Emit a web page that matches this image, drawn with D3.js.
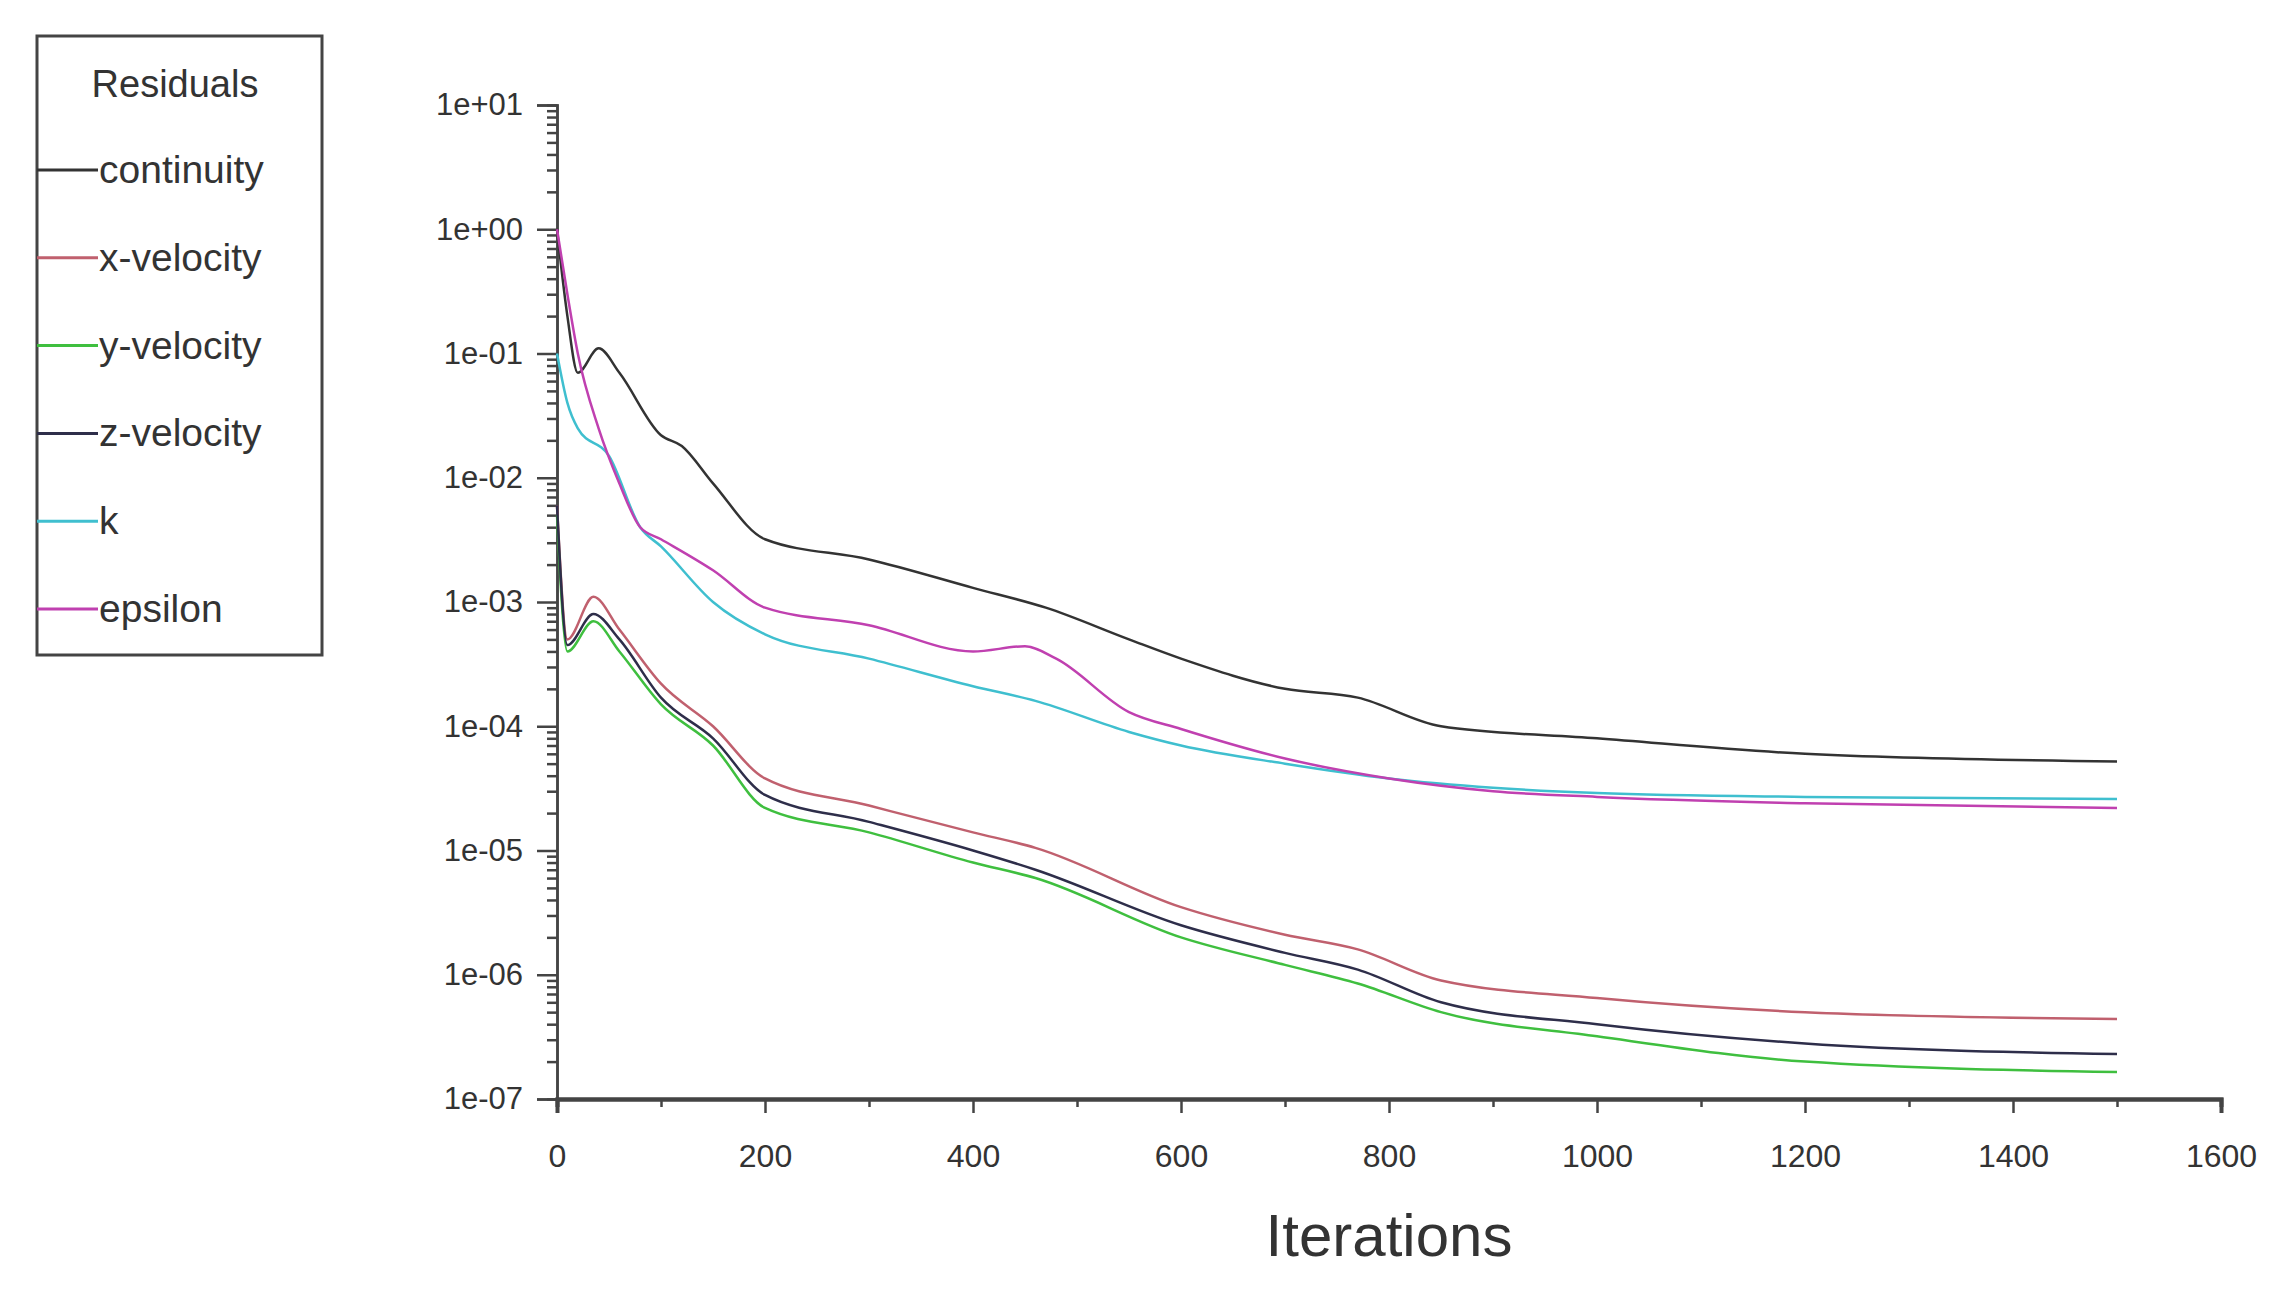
<!DOCTYPE html>
<html>
<head>
<meta charset="utf-8">
<script src="https://cdn.jsdelivr.net/npm/d3@7"></script>
<style>
  body { margin: 0; background: #fff; }
  text { font-family: "Liberation Sans", Arial, sans-serif; fill: #333; }
</style>
</head>
<body>
<svg width="2284" height="1291"></svg>
<script>
// iteration / residual pairs
const seriesNames = ['continuity', 'x-velocity', 'y-velocity', 'z-velocity', 'k', 'epsilon'];
const seriesColors = ['#333333', '#c0606e', '#3fbf3f', '#2e2e4a', '#3fbfcf', '#c040b0'];

const continuity = [[0,1],[10,0.2],[20,0.07],[40,0.11],[60,0.07],[100,0.022],[120,0.018],[150,0.009],[200,0.0032],[300,0.0022],[400,0.0013],[470,0.0009],[550,0.0005],[600,0.00035],[700,0.0002],[770,0.00017],[850,0.0001],[1000,0.00008],[1200,0.00006],[1500,0.000052]];
const xVelocity = [[0,0.006],[10,5e-4],[35,1.1e-3],[60,6e-4],[100,2.2e-4],[150,1e-4],[200,3.8e-5],[300,2.3e-5],[400,1.4e-5],[460,1.05e-5],[600,3.5e-6],[700,2.1e-6],[770,1.6e-6],[850,9e-7],[1000,6.5e-7],[1200,5e-7],[1500,4.4e-7]];
const yVelocity = [[0,0.005],[10,4e-4],[35,7e-4],[60,4e-4],[100,1.5e-4],[150,7e-5],[200,2.2e-5],[300,1.4e-5],[400,8e-6],[460,6e-6],[600,2e-6],[700,1.2e-6],[770,8.5e-7],[850,5e-7],[1000,3.2e-7],[1200,2e-7],[1500,1.65e-7]];
const zVelocity = [[0,0.006],[10,4.5e-4],[35,8e-4],[60,5e-4],[100,1.7e-4],[150,8e-5],[200,2.8e-5],[300,1.7e-5],[400,1e-5],[460,7e-6],[600,2.5e-6],[700,1.5e-6],[770,1.1e-6],[850,6e-7],[1000,4e-7],[1200,2.8e-7],[1500,2.3e-7]];
const kRes = [[0,0.1],[10,0.04],[20,0.025],[50,0.015],[80,0.004],[100,0.0028],[150,0.001],[200,5.5e-4],[300,3.5e-4],[400,2.1e-4],[460,1.6e-4],[550,9e-5],[600,7e-5],[700,5e-5],[800,3.8e-5],[900,3.2e-5],[1000,2.9e-5],[1200,2.7e-5],[1500,2.6e-5]];
const epsilon = [[0,1],[10,0.3],[20,0.1],[40,0.025],[60,0.009],[80,0.004],[100,0.0032],[150,0.0018],[200,9e-4],[300,6.5e-4],[400,4e-4],[450,4.4e-4],[480,3.5e-4],[550,1.3e-4],[600,9.5e-5],[700,5.5e-5],[800,3.8e-5],[900,3e-5],[1000,2.7e-5],[1200,2.4e-5],[1500,2.2e-5]];

const allSeries = [continuity, xVelocity, yVelocity, zVelocity, kRes, epsilon];
const yTickValues = [1e1, 1e0, 1e-1, 1e-2, 1e-3, 1e-4, 1e-5, 1e-6, 1e-7];
const yTickLabels = ['1e+01','1e+00','1e-01','1e-02','1e-03','1e-04','1e-05','1e-06','1e-07'];
const xTickValues = [0,200,400,600,800,1000,1200,1400,1600];

const svg = d3.select('svg');
const mLeft = 557, mRight = 2221, mTop = 105, mBottom = 1099;

const xScale = d3.scaleLinear().domain([0, 1600]).range([mLeft, mRight]);
const yScale = d3.scaleLog().domain([1e-7, 10]).range([mBottom, mTop]);

// y axis with minor log ticks
const yMinor = [];
for (let e = -7; e < 1; e++) for (let m = 2; m < 10; m++) yMinor.push(m * Math.pow(10, e));
const yAxisG = svg.append('g').attr('transform', `translate(${mLeft},0)`);
yAxisG.call(d3.axisLeft(yScale).tickValues(yMinor).tickSize(10).tickFormat(''));
yAxisG.append('g').call(d3.axisLeft(yScale).tickValues(yTickValues).tickSize(20)
    .tickFormat((d, i) => yTickLabels[i]));
yAxisG.selectAll('path, line').attr('stroke', '#444').attr('stroke-width', 2.5);
yAxisG.selectAll('text').attr('font-size', 31).attr('fill', '#333').attr('x', -34);

// x axis
const xAxisG = svg.append('g').attr('transform', `translate(0,${mBottom})`);
xAxisG.call(d3.axisBottom(xScale).tickValues(d3.range(100, 1600, 200)).tickSize(8).tickFormat(''));
xAxisG.append('g').call(d3.axisBottom(xScale).tickValues(xTickValues).tickSize(14).tickFormat(d3.format('d')));
xAxisG.selectAll('path').attr('stroke', '#444').attr('stroke-width', 4);
xAxisG.selectAll('line').attr('stroke', '#444').attr('stroke-width', 2.5);
xAxisG.selectAll('text').attr('font-size', 32).attr('fill', '#333').attr('dy', '1.6em');

svg.append('text').text('Iterations')
    .attr('x', (mLeft + mRight) / 2).attr('y', 1256)
    .attr('text-anchor', 'middle').attr('font-size', 60);

// lines
const line = d3.line().x(d => xScale(d[0])).y(d => yScale(d[1])).curve(d3.curveMonotoneX);
svg.append('g').selectAll('path').data(allSeries).enter().append('path')
    .attr('d', line).attr('fill', 'none')
    .attr('stroke', (d, i) => seriesColors[i]).attr('stroke-width', 2.5);

// legend
const legend = svg.append('g');
legend.append('rect').attr('x', 37).attr('y', 36).attr('width', 285).attr('height', 619)
    .attr('fill', 'none').attr('stroke', '#444').attr('stroke-width', 3);
legend.append('text').text('Residuals').attr('x', 175).attr('y', 97)
    .attr('text-anchor', 'middle').attr('font-size', 38);
const legendY = d3.scaleLinear().domain([0, 5]).range([170, 609]);
seriesNames.forEach((name, i) => {
  legend.append('line').attr('x1', 37).attr('x2', 98)
      .attr('y1', legendY(i)).attr('y2', legendY(i))
      .attr('stroke', seriesColors[i]).attr('stroke-width', 3);
  legend.append('text').text(name).attr('x', 99).attr('y', legendY(i) + 13)
      .attr('font-size', 39);
});
</script>
</body>
</html>
